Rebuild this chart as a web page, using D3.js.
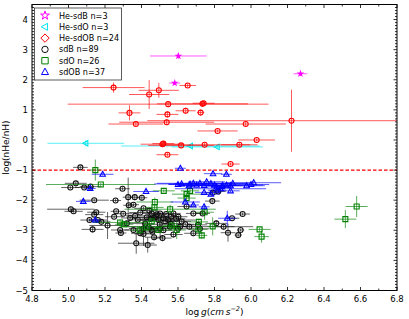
<!DOCTYPE html>
<html lang="en">
<head>
<meta charset="UTF-8" />
<title>log g vs log(nHe/nH)</title>
<script src="https://d3js.org/d3.v7.min.js"></script>
<style>
  body { margin: 0; background: #fff; }
  text { font-family: "DejaVu Sans", sans-serif; }
</style>
</head>
<body>
<script>
    var w = 409;
    var h = 319;
    var margin = {left: 32, right: 12, top: 4.5, bottom: 28.5};

    // data: [log g, log(nHe/nH), err log g, err log(nHe/nH)]
    var heSdB = [[5.602, 2.79, 0.155, 0.1], [5.582, 1.89, 0.03, 0.05], [6.271, 2.20, 0.037, 0.08]];
    var heSdO = [[5.095, -0.11, 0.21, 0.1], [5.668, -0.20, 0.38, 0.06], [5.815, -0.23, 0.25, 0.06]];
    var heSdOB = [
        [5.247, 1.74, 0.17, 0.17], [5.442, 1.51, 0.11, 0.48], [5.495, 1.65, 0.11, 0.25], [5.653, 1.81, 0.045, 0.06],
        [5.546, 1.19, 0.55, 0.1], [5.734, 1.20, 0.25, 0.08], [5.334, 0.90, 0.06, 0.25], [5.642, 0.97, 0.055, 0.1],
        [5.724, 0.91, 0.02, 0.1], [5.542, 0.85, 0.06, 0.1], [5.538, 0.59, 0.26, 0.1], [5.369, 0.53, 0.15, 0.06],
        [5.971, 0.53, 0.22, 0.08], [5.817, 0.30, 0.11, 0.05], [6.222, 0.64, 0.79, 1.03], [6.031, 0.00, 0.10, 0.05],
        [5.515, -0.14, 0.12, 0.1], [5.617, -0.18, 0.18, 0.06], [5.746, -0.16, 0.25, 0.06], [5.936, -0.16, 0.10, 0.06],
        [5.542, -0.49, 0.06, 0.06], [5.888, -0.80, 0.05, 0.05], [5.520, -0.12, 0.06, 0.06], [5.740, 1.22, 0.06, 0.06]
    ];
    var sdB = [
        [5.065, -0.91, 0.04, 0.05], [5.010, -1.58, 0.05, 0.05], [5.040, -1.44, 0.06, 0.05], [5.086, -1.58, 0.05, 0.05],
        [5.121, -1.55, 0.06, 0.05], [5.296, -1.62, 0.04, 0.05], [5.258, -2.01, 0.03, 0.05], [5.141, -2.00, 0.08, 0.05],
        [5.327, -1.90, 0.03, 0.65], [5.363, -1.90, 0.03, 0.1], [5.402, -1.92, 0.03, 0.1], [5.330, -2.17, 0.03, 0.05],
        [5.356, -2.15, 0.03, 0.05], [5.013, -2.30, 0.13, 0.08], [5.028, -2.37, 0.05, 0.05], [5.152, -2.40, 0.05, 0.05],
        [5.141, -2.48, 0.05, 0.05], [5.115, -2.66, 0.05, 0.05], [5.161, -2.66, 0.05, 0.05], [5.132, -2.97, 0.06, 0.1],
        [5.261, -2.37, 0.03, 0.05], [5.214, -2.84, 0.1, 0.45], [5.287, -3.09, 0.03, 0.1], [5.338, -2.59, 0.05, 0.05],
        [5.365, -2.52, 0.05, 0.05], [5.393, -2.41, 0.06, 0.05], [5.411, -2.27, 0.05, 0.05], [5.429, -2.57, 0.1, 0.05],
        [5.443, -2.35, 0.05, 0.1], [5.456, -2.44, 0.05, 0.05], [5.469, -2.57, 0.08, 0.05], [5.484, -2.47, 0.05, 0.05],
        [5.493, -2.66, 0.12, 0.05], [5.502, -2.44, 0.05, 0.05], [5.520, -2.60, 0.06, 0.05], [5.535, -2.46, 0.05, 0.05],
        [5.547, -2.66, 0.15, 0.05], [5.562, -2.55, 0.05, 0.05], [5.575, -2.44, 0.04, 0.05], [5.602, -2.55, 0.05, 0.05],
        [5.620, -2.71, 0.05, 0.05], [5.611, -2.88, 0.1, 0.1], [5.556, -2.88, 0.05, 0.05], [5.502, -2.94, 0.05, 0.3],
        [5.456, -2.99, 0.05, 0.05], [5.411, -2.94, 0.08, 0.1], [5.393, -3.10, 0.05, 0.1], [5.356, -2.99, 0.05, 0.05],
        [5.320, -2.77, 0.05, 0.05], [5.283, -2.99, 0.05, 0.05], [5.469, -3.23, 0.05, 0.1], [5.515, -3.26, 0.05, 0.1],
        [5.411, -3.12, 0.05, 0.4], [5.434, -3.49, 0.05, 0.25], [5.371, -3.43, 0.1, 0.35], [5.575, -3.14, 0.05, 0.1],
        [5.662, -2.88, 0.35, 0.1], [5.684, -3.10, 0.05, 0.1], [5.710, -2.82, 0.05, 0.1], [5.735, -2.44, 0.04, 0.05],
        [5.684, -2.44, 0.04, 0.05], [5.810, -2.77, 0.06, 0.1], [5.850, -2.88, 0.06, 0.1], [5.874, -3.08, 0.04, 0.3],
        [5.896, -2.60, 0.04, 0.05], [5.930, -3.16, 0.02, 0.05], [5.943, -2.99, 0.02, 0.05], [5.954, -2.46, 0.04, 0.05],
        [5.788, -2.03, 0.04, 0.05], [5.821, -1.71, 0.04, 0.05], [5.790, -1.75, 0.04, 0.05], [5.647, -2.21, 0.05, 0.05],
        [5.450, -2.62, 0.05, 0.05], [5.480, -2.55, 0.05, 0.05], [5.530, -2.70, 0.05, 0.05], [5.560, -2.78, 0.05, 0.05],
        [5.420, -2.78, 0.05, 0.05], [5.440, -2.90, 0.05, 0.05], [5.500, -2.80, 0.05, 0.05], [5.590, -2.62, 0.05, 0.05],
        [5.380, -2.65, 0.05, 0.05], [5.460, -3.05, 0.05, 0.05], [5.520, -3.00, 0.05, 0.05], [5.600, -2.95, 0.05, 0.05],
        [5.640, -2.80, 0.05, 0.05], [5.720, -2.95, 0.05, 0.05], [5.300, -2.45, 0.05, 0.05], [5.250, -2.55, 0.05, 0.05],
        [5.180, -2.72, 0.05, 0.05]
    ];
    var sdO = [
        [5.147, -1.00, 0.03, 0.35], [5.177, -1.48, 0.30, 0.05], [5.522, -1.69, 0.06, 0.05], [5.473, -2.06, 0.10, 0.15],
        [5.471, -2.24, 0.05, 0.05], [5.557, -2.30, 0.25, 0.15], [5.283, -2.74, 0.15, 0.1], [5.305, -2.80, 0.05, 0.1],
        [5.390, -3.00, 0.05, 0.1], [5.593, -2.99, 0.05, 0.3], [5.647, -1.80, 0.08, 0.05], [5.666, -1.69, 0.05, 0.05],
        [5.647, -1.93, 0.05, 0.1], [5.746, -2.40, 0.05, 0.25], [5.730, -3.17, 0.03, 0.1], [5.790, -2.87, 0.03, 0.3],
        [5.714, -2.72, 0.05, 0.1], [5.712, -2.97, 0.05, 0.1], [6.047, -2.97, 0.06, 0.05], [6.058, -3.21, 0.04, 0.2],
        [6.517, -2.63, 0.06, 0.3], [6.579, -2.21, 0.06, 0.35], [5.429, -2.88, 0.15, 0.1], [5.456, -2.71, 0.05, 0.1],
        [5.493, -2.99, 0.05, 0.1], [5.566, -2.84, 0.05, 0.1]
    ];
    var sdOB = [
        [5.613, -0.94, 0.03, 0.03], [5.792, -1.12, 0.05, 0.04], [5.865, -1.14, 0.03, 0.04], [5.187, -1.14, 0.06, 0.04],
        [5.119, -1.61, 0.03, 0.04], [5.081, -2.04, 0.04, 0.04], [5.425, -1.71, 0.07, 0.04], [5.640, -2.06, 0.08, 0.04],
        [5.684, -2.16, 0.03, 0.04], [5.743, -2.22, 0.03, 0.04], [5.757, -1.39, 0.10, 0.04], [5.666, -1.47, 0.12, 0.04],
        [5.620, -1.46, 0.15, 0.04], [5.684, -1.44, 0.20, 0.04], [5.702, -1.50, 0.10, 0.04], [5.720, -1.44, 0.08, 0.04],
        [5.743, -1.51, 0.15, 0.04], [5.780, -1.45, 0.20, 0.04], [5.800, -1.50, 0.10, 0.04], [5.812, -1.56, 0.08, 0.04],
        [5.833, -1.62, 0.25, 0.04], [5.845, -1.51, 0.10, 0.04], [5.865, -1.50, 0.20, 0.04], [5.888, -1.52, 0.08, 0.04],
        [5.900, -1.44, 0.10, 0.04], [5.976, -1.52, 0.10, 0.04], [6.000, -1.48, 0.10, 0.04], [6.015, -1.42, 0.15, 0.04],
        [5.743, -1.74, 0.05, 0.04], [5.814, -1.67, 0.05, 0.04], [5.888, -1.69, 0.05, 0.04], [5.146, -2.66, 0.03, 0.04],
        [5.840, -1.55, 0.06, 0.04], [5.870, -2.60, 0.05, 0.25], [5.780, -1.80, 0.05, 0.04], [5.600, -1.48, 0.05, 0.04],
        [5.660, -1.52, 0.05, 0.04]
    ];

    var xTicks = [4.8, 5.0, 5.2, 5.4, 5.6, 5.8, 6.0, 6.2, 6.4, 6.6, 6.8];
    var yTicks = [-5, -4, -3, -2, -1, 0, 1, 2, 3, 4];

    var series = [
        {name: "He-sdB n=3", data: heSdB, color: "#ff00ff", shape: "star"},
        {name: "He-sdO n=3", data: heSdO, color: "#00e5ee", shape: "tri-left"},
        {name: "He-sdOB n=24", data: heSdOB, color: "#ff0000", shape: "diamond"},
        {name: "sdB n=89", data: sdB, color: "#111111", shape: "circle"},
        {name: "sdO n=26", data: sdO, color: "#008000", shape: "square"},
        {name: "sdOB n=37", data: sdOB, color: "#0000ff", shape: "triangle"}
    ];

    var svg = d3.select("body")
        .append("svg")
        .attr("width", w)
        .attr("height", h);

    var xScale = d3.scaleLinear().domain([4.8, 6.8]).range([margin.left, w - margin.right]);
    var yScale = d3.scaleLinear().domain([-5, 4.5]).range([h - margin.bottom, margin.top]);

    svg.append("defs").append("clipPath").attr("id", "clip")
        .append("rect")
        .attr("x", margin.left).attr("y", margin.top)
        .attr("width", w - margin.left - margin.right)
        .attr("height", h - margin.top - margin.bottom);

    // marker path, centred on 0,0
    function shapePath(shape, s) {
        if (shape == "circle") return d3.symbol(d3.symbolCircle, Math.PI * s * s)();
        if (shape == "square") return "M" + (-s) + "," + (-s) + "H" + s + "V" + s + "H" + (-s) + "Z";
        if (shape == "diamond") return "M0," + (-s * 1.3) + "L" + (s * 1.3) + ",0L0," + (s * 1.3) + "L" + (-s * 1.3) + ",0Z";
        if (shape == "triangle") return "M0," + (-s * 1.2) + "L" + (s * 1.1) + "," + (s * 0.8) + "L" + (-s * 1.1) + "," + (s * 0.8) + "Z";
        if (shape == "tri-left") return "M" + (-s * 1.2) + ",0L" + (s * 0.8) + "," + (-s * 1.1) + "L" + (s * 0.8) + "," + (s * 1.1) + "Z";
        if (shape == "star") return d3.symbol(d3.symbolStar, s * s * 3)();
    }

    var plot = svg.append("g").attr("clip-path", "url(#clip)");

    // dashed line at -1
    plot.append("line")
        .attr("x1", margin.left).attr("x2", w - margin.right)
        .attr("y1", yScale(-1)).attr("y2", yScale(-1))
        .attr("stroke", "#ff0000")
        .attr("stroke-width", 1.2)
        .attr("stroke-dasharray", "3.5,2");

    series.forEach(function(s) {
        var g = plot.append("g");
        var pts = g.selectAll("g").data(s.data).enter().append("g");
        pts.append("line")
            .attr("x1", function(d) { return xScale(d[0] - d[2]); })
            .attr("x2", function(d) { return xScale(d[0] + d[2]); })
            .attr("y1", function(d) { return yScale(d[1]); })
            .attr("y2", function(d) { return yScale(d[1]); })
            .attr("stroke", s.color).attr("stroke-opacity", 0.65).attr("stroke-width", 1);
        pts.append("line")
            .attr("x1", function(d) { return xScale(d[0]); })
            .attr("x2", function(d) { return xScale(d[0]); })
            .attr("y1", function(d) { return yScale(d[1] - d[3]); })
            .attr("y2", function(d) { return yScale(d[1] + d[3]); })
            .attr("stroke", s.color).attr("stroke-opacity", 0.65).attr("stroke-width", 1);
        var plotShape = s.shape == "diamond" ? "circle" : s.shape;
        pts.append("path")
            .attr("transform", function(d) { return "translate(" + xScale(d[0]) + "," + yScale(d[1]) + ")"; })
            .attr("d", shapePath(plotShape, s.shape == "star" ? 1.4 : 2.5))
            .attr("fill", s.shape == "star" ? s.color : "none")
            .attr("stroke", s.color)
            .attr("stroke-width", 1.1);
    });

    // frame
    svg.append("rect")
        .attr("x", margin.left).attr("y", margin.top)
        .attr("width", w - margin.left - margin.right)
        .attr("height", h - margin.top - margin.bottom)
        .attr("fill", "none").attr("stroke", "#000").attr("stroke-width", 1);

    // ticks on all four sides, pointing inward
    var xMinor = d3.range(4.8, 6.81, 0.1);
    var yMinor = d3.range(-5, 4.51, 0.1);
    var ticks = svg.append("g").attr("stroke", "#000").attr("stroke-width", 0.8);
    xMinor.forEach(function(v) {
        var len = xTicks.some(function(t) { return Math.abs(t - v) < 1e-6; }) ? 3.5 : 2;
        ticks.append("line").attr("x1", xScale(v)).attr("x2", xScale(v))
            .attr("y1", h - margin.bottom).attr("y2", h - margin.bottom - len);
        ticks.append("line").attr("x1", xScale(v)).attr("x2", xScale(v))
            .attr("y1", margin.top).attr("y2", margin.top + len);
    });
    yMinor.forEach(function(v) {
        var len = yTicks.some(function(t) { return Math.abs(t - v) < 1e-6; }) ? 3.5 : 2;
        ticks.append("line").attr("y1", yScale(v)).attr("y2", yScale(v))
            .attr("x1", margin.left).attr("x2", margin.left + len);
        ticks.append("line").attr("y1", yScale(v)).attr("y2", yScale(v))
            .attr("x1", w - margin.right).attr("x2", w - margin.right - len);
    });

    // tick labels
    svg.append("g").selectAll("text").data(xTicks).enter().append("text")
        .attr("x", function(d) { return xScale(d); })
        .attr("y", h - margin.bottom + 11)
        .attr("text-anchor", "middle")
        .attr("font-size", 8.5)
        .text(function(d) { return d.toFixed(1); });
    svg.append("g").selectAll("text").data(yTicks).enter().append("text")
        .attr("x", margin.left - 4)
        .attr("y", function(d) { return yScale(d) + 3; })
        .attr("text-anchor", "end")
        .attr("font-size", 8.5)
        .text(function(d) { return d < 0 ? "\u2212" + Math.abs(d) : d; });

    // axis titles
    var xl = svg.append("text")
        .attr("x", xScale(5.8)).attr("y", h - 4)
        .attr("text-anchor", "middle").attr("font-size", 9);
    xl.append("tspan").text("log\u2009");
    xl.append("tspan").attr("font-style", "italic").text("g");
    xl.append("tspan").text("(");
    xl.append("tspan").attr("font-style", "italic").text("cm\u2009s");
    xl.append("tspan").attr("font-style", "italic").attr("font-size", 6.5).attr("dy", -4).text("\u22122");
    xl.append("tspan").attr("dy", 4).text(")");

    svg.append("text")
        .attr("transform", "translate(9," + yScale(-0.25) + ") rotate(-90)")
        .attr("text-anchor", "middle").attr("font-size", 9)
        .text("log(nHe/nH)");

    // legend
    var lg = svg.append("g");
    lg.append("rect")
        .attr("x", 34.5).attr("y", 8).attr("width", 87).attr("height", 72)
        .attr("fill", "#fff").attr("stroke", "#333").attr("stroke-width", 0.8);
    series.forEach(function(s, i) {
        var yy = 15.5 + i * 11.3;
        lg.append("path")
            .attr("transform", "translate(45," + yy + ")")
            .attr("d", shapePath(s.shape, s.shape == "star" ? 2.8 : 3.2))
            .attr("fill", "none").attr("stroke", s.color).attr("stroke-width", 1);
        lg.append("text")
            .attr("x", 59).attr("y", yy + 3)
            .attr("font-size", 8.1)
            .text(s.name);
    });
</script>
</body>
</html>
